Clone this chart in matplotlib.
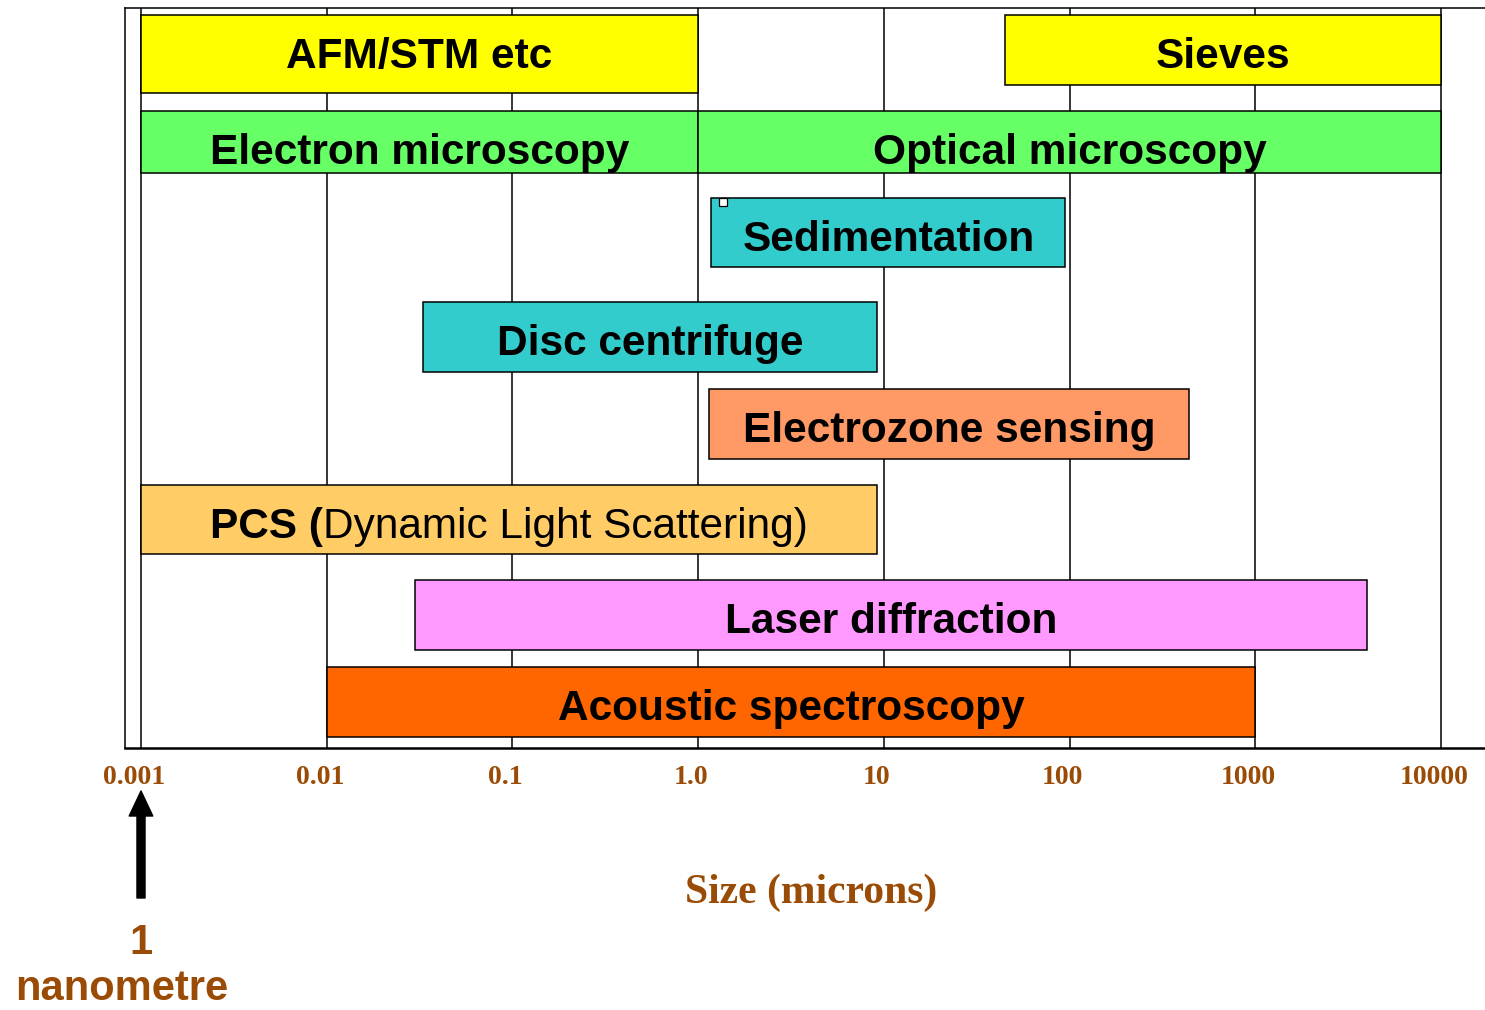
import numpy as np
import matplotlib; matplotlib.use("Agg")
import matplotlib.pyplot as plt
from matplotlib.transforms import ScaledTranslation
from matplotlib.ticker import NullLocator

# particle sizing techniques and the size range (microns) each one covers
methods = ["AFM/STM etc", "Sieves", "Electron microscopy", "Optical microscopy",
           "Sedimentation", "Disc centrifuge", "Electrozone sensing", "PCS",
           "Laser diffraction", "Acoustic spectroscopy"]
size_min = [0.001, 45, 0.001, 1.0, 1.18, 0.033, 1.15, 0.001, 0.030, 0.01]
size_max = [1.0, 10000, 1.0, 10000, 95, 9.2, 440, 9.2, 4000, 1000]
tick_vals = [0.001, 0.01, 0.1, 1, 10, 100, 1000, 10000]
tick_lbls = ["0.001", "0.01", "0.1", "1.0", "10", "100", "1000", "10000"]

colors = ["#FFFF00", "#FFFF00", "#66FF66", "#66FF66", "#33CCCC", "#33CCCC",
          "#FF9966", "#FFCC66", "#FF99FF", "#FF6600"]
# layout: bar top / bottom in pixels below the frame top
row_top = [7, 7, 103, 103, 190, 294, 381, 477, 572, 659]
row_bot = [85, 77, 165, 165, 259, 364, 451, 546, 642, 729]
brown = "#9A4B05"
DPI = 100

fig = plt.figure(figsize=(14.85, 10.10), dpi=DPI)
ax = fig.add_axes([125 / 1485, 262 / 1010, 1360 / 1485, 740 / 1010])
ax.set_xscale("log")
ax.set_xlim(10 ** (-3 - 16 / 185.714), 10 ** (4 + 44 / 185.714))
ax.set_ylim(740, 0)

ax.set_xticks(tick_vals, [""] * len(tick_vals))
ax.xaxis.set_minor_locator(NullLocator())
ax.set_yticks([])
ax.tick_params(length=0)
ax.grid(True, axis="x", color="black", lw=1.1)
ax.set_axisbelow(True)
for s in ["left", "top"]:
    ax.spines[s].set_linewidth(1.1)
ax.spines["bottom"].set_linewidth(1.8)
ax.spines["right"].set_visible(False)

top = np.array(row_top); bot = np.array(row_bot)
lo = np.array(size_min); hi = np.array(size_max)
ax.barh((top + bot) / 2, hi - lo, left=lo, height=bot - top, color=colors,
        edgecolor="black", lw=1.1, zorder=2)

lab = dict(family="Liberation Sans", size=30.5, color="black", zorder=3)
for name, a, b, t in zip(methods, size_min, size_max, row_top):
    xc = np.sqrt(a * b)
    if name == "PCS":
        t1 = ax.text(xc, t + 53, "PCS (", ha="left", va="baseline", weight="bold", **lab)
        t2 = ax.annotate("Dynamic Light Scattering)", xy=(1, 0), xycoords=t1,
                         ha="left", va="bottom", **lab)
        r = fig.canvas.get_renderer()
        w = t2.get_window_extent(r).x1 - t1.get_window_extent(r).x0
        t1.set_transform(ax.transData + ScaledTranslation(-w / 2 / DPI, 0, fig.dpi_scale_trans))
    else:
        ax.text(xc, t + 53, name, ha="center", va="baseline", weight="bold", **lab)

# small white marker at the corner of the Sedimentation box
i = methods.index("Sedimentation")
ax.plot(size_min[i], row_top[i], marker="s", ms=5.5, mfc="white", mec="black", mew=0.9,
        zorder=4, transform=ax.transData + ScaledTranslation(12 / DPI, -4 / DPI, fig.dpi_scale_trans))

# tick labels
for v, s in zip(tick_vals, tick_lbls):
    ax.annotate(s, xy=(v, 0), xycoords=("data", "axes fraction"), xytext=(-7, -36),
                textcoords="offset pixels", ha="center", va="baseline",
                family="Liberation Serif", weight="bold", size=20, color=brown,
                annotation_clip=False)

fig.text(811 / 1485, 107 / 1010, "Size (microns)", ha="center", va="baseline",
         family="Liberation Serif", weight="bold", size=30, color=brown)

ax.annotate("", xy=(0.001, 219), xycoords=("data", "figure pixels"),
            xytext=(0.001, 112), textcoords=("data", "figure pixels"),
            arrowprops=dict(facecolor="black", edgecolor="black", width=5.8,
                            headwidth=17, headlength=18, shrink=0),
            annotation_clip=False)
fig.text(141 / 1485, 56 / 1010, "1", ha="center", va="baseline",
         family="Liberation Sans", weight="bold", size=30, color=brown)
fig.text(121.5 / 1485, 10 / 1010, "nanometre", ha="center", va="baseline",
         family="Liberation Sans", weight="bold", size=30, color=brown)

fig.savefig("out.png", dpi=DPI)
